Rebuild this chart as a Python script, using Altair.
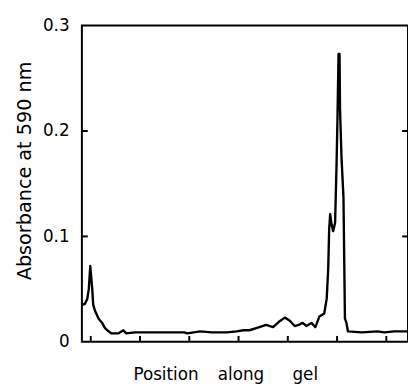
import altair as alt
import pandas as pd

# Position along gel (units of tick spacing) and absorbance at 590 nm
pos = [-0.17, -0.12, -0.07, -0.04, -0.01, 0.03, 0.05, 0.09, 0.16, 0.23, 0.29, 0.36,
       0.42, 0.56, 0.66, 0.72, 0.90, 1.16, 1.56, 1.90, 1.96, 2.22, 2.46, 2.76, 2.96,
       3.10, 3.22, 3.36, 3.56, 3.70, 3.82, 3.94, 4.04, 4.14, 4.22, 4.30, 4.38, 4.48,
       4.56, 4.64, 4.74, 4.79, 4.82, 4.84, 4.86, 4.89, 4.92, 4.96, 4.99, 5.01, 5.03,
       5.05, 5.06, 5.09, 5.13, 5.16, 5.19, 5.22, 5.50, 5.82, 5.96, 6.16, 6.42]
absorb = [0.035, 0.036, 0.041, 0.050, 0.072, 0.050, 0.035, 0.029, 0.022, 0.018, 0.013, 0.010,
          0.008, 0.008, 0.011, 0.008, 0.009, 0.009, 0.009, 0.009, 0.008, 0.010, 0.009, 0.009, 0.010,
          0.011, 0.011, 0.013, 0.016, 0.014, 0.019, 0.023, 0.020, 0.015, 0.016, 0.018, 0.015, 0.018,
          0.014, 0.024, 0.027, 0.041, 0.069, 0.107, 0.121, 0.111, 0.105, 0.113, 0.169, 0.216, 0.273,
          0.273, 0.221, 0.175, 0.137, 0.022, 0.018, 0.010, 0.009, 0.010, 0.009, 0.010, 0.010]

x_ticks = [0, 1, 2, 3, 4, 5, 6]
y_ticks = [0.1, 0.2]
y_labels = [0, 0.1, 0.2, 0.3]

W, H = 331, 321
FONT = "DejaVu Sans"
NB = "\u00a0"
X_TITLE = "Position" + NB * 3 + "\u2009" + "along" + NB * 5 + "\u200a" + "gel"

df = pd.DataFrame({"pos": pos, "absorb": absorb})
xscale = alt.Scale(domain=[-0.18, 6.44], nice=False, zero=False)
yscale = alt.Scale(domain=[0, 0.3], nice=False, zero=False)

curve = alt.Chart(df).mark_line(color="black", strokeWidth=2.4, strokeJoin="round").encode(
    x=alt.X("pos:Q", scale=xscale,
            axis=alt.Axis(title=X_TITLE,
                          labels=False, ticks=False, domain=False, grid=False,
                          titleFont=FONT, titleFontSize=17, titleFontWeight="normal",
                          titleColor="black", titleX=145.5, titleY=38,
                          titleBaseline="alphabetic", titleAlign="center")),
    y=alt.Y("absorb:Q", scale=yscale,
            axis=alt.Axis(title="Absorbance at 590 nm", values=y_labels,
                          labelExpr="datum.value == 0 ? '0' : format(datum.value, '.1f')",
                          ticks=False, domain=False, grid=False,
                          labelFont=FONT, labelFontSize=17, labelColor="black", labelPadding=13,
                          titleFont=FONT, titleFontSize=19.5, titleFontWeight="normal",
                          titleColor="black", titleX=-52, titleY=147, titleAngle=270,
                          titleBaseline="alphabetic", titleAlign="center")),
)

ydf = pd.DataFrame({"yt": y_ticks})
xdf = pd.DataFrame({"xt": x_ticks})

left_ticks = alt.Chart(ydf).mark_rule(color="black", strokeWidth=2).encode(
    y=alt.Y("yt:Q", scale=yscale), x=alt.value(0), x2=alt.value(6))
right_ticks = alt.Chart(ydf).mark_rule(color="black", strokeWidth=2).encode(
    y=alt.Y("yt:Q", scale=yscale), x=alt.value(W - 6), x2=alt.value(W))
bottom_ticks = alt.Chart(xdf).mark_rule(color="black", strokeWidth=2).encode(
    x=alt.X("xt:Q", scale=xscale), y=alt.value(H - 6), y2=alt.value(H))

chart = alt.layer(curve, left_ticks, right_ticks, bottom_ticks).properties(
    width=W, height=H,
    background="white",
    autosize=alt.AutoSizeParams(type="none"),
    padding={"left": 75, "top": 15, "right": 0, "bottom": 45},
).configure_view(stroke="black", strokeWidth=2)

chart.save("out.html", embed_options={"renderer": "svg", "actions": False})
